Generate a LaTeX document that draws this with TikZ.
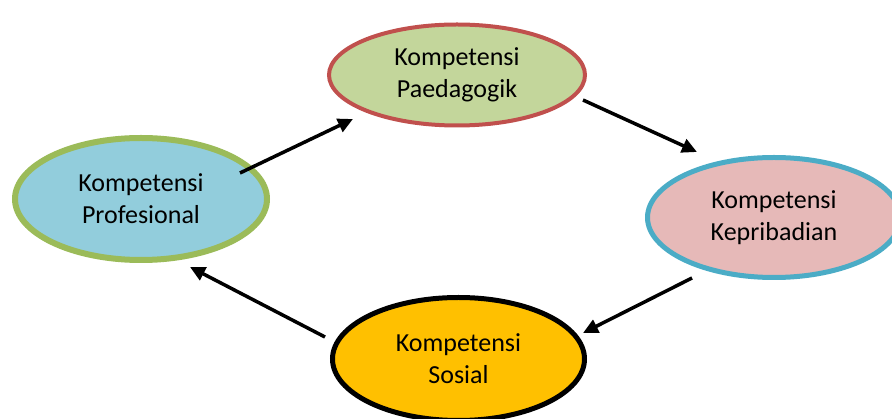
\documentclass[tikz,border=0pt]{standalone}
\usepackage{fontspec}
\setmainfont{Carlito}
\usetikzlibrary{shapes.geometric,arrows.meta}
\definecolor{paedfill}{HTML}{C3D69B}
\definecolor{paedline}{HTML}{C0504D}
\definecolor{proffill}{HTML}{92CDDC}
\definecolor{profline}{HTML}{9BBB59}
\definecolor{kepfill}{HTML}{E6B9B8}
\definecolor{kepline}{HTML}{4BACC6}
\definecolor{sosfill}{HTML}{FFC000}
\tikzset{
	comp/.style={ellipse,inner sep=0pt,align=center,font=\fontsize{26}{32}\selectfont},
	flow/.style={-{Triangle[length=15pt,width=14pt]},line width=3.5pt,black,shorten >=0pt}
}
\begin{document}
\begin{tikzpicture}[x=1pt,y=-1pt]
		\useasboundingbox (0,0) rectangle (892,419);
		\node[comp,fill=paedfill,draw=paedline,line width=4pt,minimum width=256pt,minimum height=101pt] (paed) at (457,75) {Kompetensi\\Paedagogik};
		\node[comp,fill=proffill,draw=profline,line width=6pt,minimum width=252pt,minimum height=122pt] (prof) at (141,199) {Kompetensi\\Profesional};
		\node[comp,fill=kepfill,draw=kepline,line width=5pt,minimum width=253pt,minimum height=120pt] (kep) at (774,217.5) {Kompetensi\\Kepribadian};
		\node[comp,fill=sosfill,draw=black,line width=5pt,minimum width=252pt,minimum height=123pt] (sos) at (458.5,359) {Kompetensi\\Sosial};
		\coordinate (a1) at (240,173);
		\coordinate (b1) at (353,119);
		\coordinate (a2) at (583,100);
		\coordinate (b2) at (697,152);
		\coordinate (a3) at (692,278);
		\coordinate (b3) at (583,333);
		\coordinate (a4) at (325,337);
		\coordinate (b4) at (190,267);
		\draw[flow] (a1)--(b1);
		\draw[flow] (a2)--(b2);
		\draw[flow] (a3)--(b3);
		\draw[flow] (a4)--(b4);
	\end{tikzpicture}
\end{document}
